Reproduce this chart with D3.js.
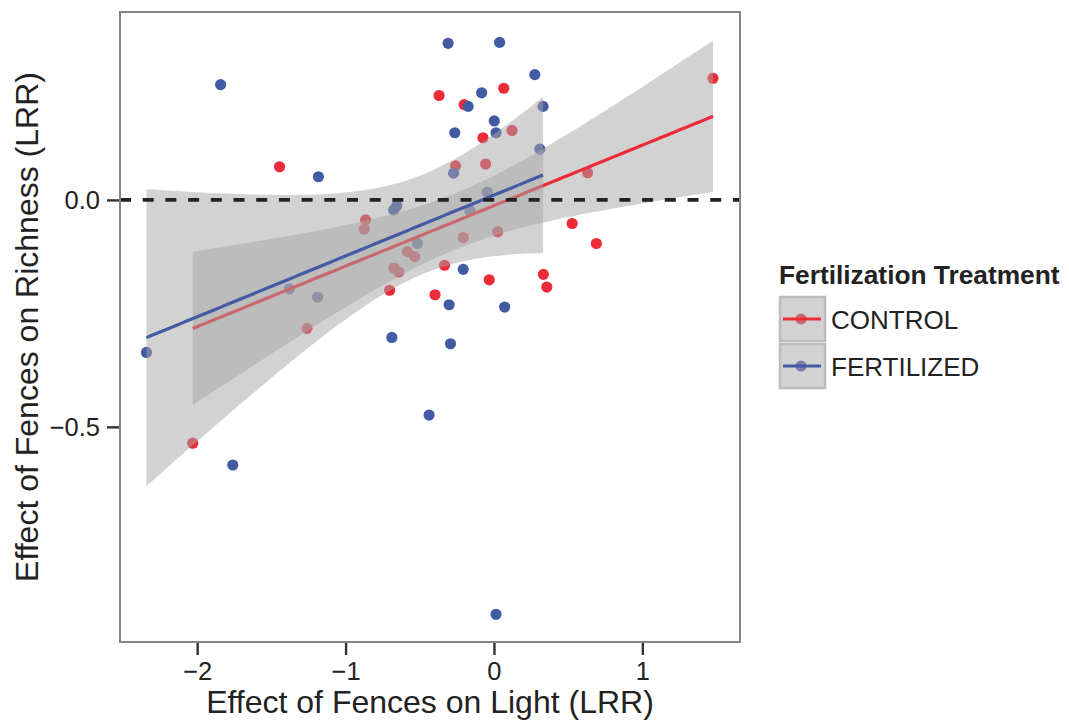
<!DOCTYPE html>
<html>
<head>
<meta charset="utf-8">
<script src="https://cdn.jsdelivr.net/npm/d3@7"></script>
<style>
  body { margin: 0; background: white; }
  svg text { font-family: "Liberation Sans", Arial, Helvetica, sans-serif; }
</style>
</head>
<body>
<div id="scatter"></div>
<script>
// Effect of fences on light (x) and on richness (y), both as LRR
let controlLight = [-1.445, -0.370, 0.066, -0.201, 0.122, -0.074, -0.259, -0.056, 0.631, 1.476,
    -0.865, -0.874, -0.584, -0.534, -0.674, -0.640, -0.703, -0.397, -1.260, -0.207,
    0.025, 0.527, 0.690, -0.333, -0.032, 0.333, 0.356, -2.030];
let controlRichness = [0.073, 0.230, 0.246, 0.210, 0.153, 0.137, 0.075, 0.079, 0.060, 0.268,
    -0.044, -0.064, -0.114, -0.125, -0.150, -0.159, -0.199, -0.209, -0.283, -0.083,
    -0.070, -0.052, -0.096, -0.144, -0.176, -0.164, -0.192, -0.536];

let fertLight = [-1.842, -1.183, -0.309, 0.038, 0.275, -0.083, -0.174, 0.331, 0.002, 0.014,
    -0.264, 0.309, -0.272, -0.045, -0.676, -0.654, -0.162, -0.516, -1.379, -1.188,
    -0.688, -2.342, -0.207, -0.302, 0.072, -0.293, -1.760, -0.437, 0.014];
let fertRichness = [0.254, 0.051, 0.345, 0.347, 0.276, 0.236, 0.206, 0.206, 0.174, 0.148,
    0.148, 0.112, 0.059, 0.017, -0.022, -0.013, -0.024, -0.096, -0.196, -0.214,
    -0.303, -0.336, -0.153, -0.231, -0.236, -0.317, -0.584, -0.474, -0.913];

let groupNames = ["CONTROL", "FERTILIZED"];
let groupColors = ["#ec2b38", "#435ba5"];
let xTicks = [-2, -1, 0, 1];
let yTicks = [-0.5, 0.0];

let width = 1069;
let height = 720;

let svg = d3.select("#scatter")
    .append("svg")
    .attr("width", width)
    .attr("height", height);

let panel = { left: 120, right: 740, top: 12, bottom: 642 };

let xScale = d3.scaleLinear()
    .domain([-2.52, 1.658])
    .range([panel.left, panel.right]);

let yScale = d3.scaleLinear()
    .domain([-0.974, 0.414])
    .range([panel.bottom, panel.top]);

// linear fit with 95% confidence band, like geom_smooth(method = "lm")
function lmBand(xs, ys, tval) {
    let n = xs.length;
    let mx = d3.mean(xs), my = d3.mean(ys);
    let sxx = d3.sum(xs, x => (x - mx) * (x - mx));
    let sxy = d3.sum(xs.map((x, i) => (x - mx) * (ys[i] - my)));
    let b = sxy / sxx;
    let a = my - b * mx;
    let rss = d3.sum(xs.map((x, i) => Math.pow(ys[i] - (a + b * x), 2)));
    let s = Math.sqrt(rss / (n - 2));
    let [lo, hi] = d3.extent(xs);
    let out = [];
    for (let k = 0; k <= 80; k++) {
        let x = lo + (hi - lo) * k / 80;
        let fit = a + b * x;
        let se = s * Math.sqrt(1 / n + (x - mx) * (x - mx) / sxx);
        out.push({ x: x, fit: fit, lower: fit - tval * se, upper: fit + tval * se });
    }
    return out;
}

let groups = [
    { name: groupNames[0], color: groupColors[0], xs: controlLight, ys: controlRichness, t: 2.056 },
    { name: groupNames[1], color: groupColors[1], xs: fertLight, ys: fertRichness, t: 2.052 }
];

// clip everything to the panel
svg.append("clipPath").attr("id", "panelClip")
    .append("rect")
    .attr("x", panel.left).attr("y", panel.top)
    .attr("width", panel.right - panel.left).attr("height", panel.bottom - panel.top);

let chartGroup = svg.append("g").attr("clip-path", "url(#panelClip)");

// points first, ribbons are drawn over them
groups.forEach(function(g) {
    chartGroup.append("g").selectAll("circle")
        .data(g.xs.map((x, i) => ({ x: x, y: g.ys[i] })))
        .enter()
        .append("circle")
        .attr("cx", d => xScale(d.x))
        .attr("cy", d => yScale(d.y))
        .attr("r", 5.6)
        .attr("fill", g.color);
});

let area = d3.area()
    .x(d => xScale(d.x))
    .y0(d => yScale(d.lower))
    .y1(d => yScale(d.upper));

let line = d3.line()
    .x(d => xScale(d.x))
    .y(d => yScale(d.fit));

groups.forEach(function(g) {
    let band = lmBand(g.xs, g.ys, g.t);
    chartGroup.append("path")
        .datum(band)
        .attr("d", area)
        .attr("fill", "#a7a6a6")
        .attr("opacity", 0.5);
    chartGroup.append("path")
        .datum(band)
        .attr("d", line)
        .attr("fill", "none")
        .attr("stroke", g.color)
        .attr("stroke-width", 3.2);
});

// dashed zero line
chartGroup.append("line")
    .attr("x1", panel.left).attr("x2", panel.right)
    .attr("y1", yScale(0)).attr("y2", yScale(0))
    .attr("stroke", "#222")
    .attr("stroke-width", 3.6)
    .attr("stroke-dasharray", "11,11.7");

// panel border
svg.append("rect")
    .attr("x", panel.left).attr("y", panel.top)
    .attr("width", panel.right - panel.left).attr("height", panel.bottom - panel.top)
    .attr("fill", "none")
    .attr("stroke", "#858585")
    .attr("stroke-width", 2);

// axes
let xAxis = d3.axisBottom(xScale).tickValues(xTicks).tickSize(12).tickPadding(7)
    .tickFormat(d3.format("d"));
let yAxis = d3.axisLeft(yScale).tickValues(yTicks).tickSize(12).tickPadding(7)
    .tickFormat(d3.format(".1f"));

let gx = svg.append("g")
    .attr("transform", `translate(0, ${panel.bottom + 1})`)
    .call(xAxis);
let gy = svg.append("g")
    .attr("transform", `translate(${panel.left - 1}, 0)`)
    .call(yAxis);

[gx, gy].forEach(function(ax) {
    ax.select(".domain").remove();
    ax.selectAll(".tick line").attr("stroke", "#333").attr("stroke-width", 2.4);
    ax.selectAll(".tick text")
        .attr("fill", "#222")
        .attr("font-size", "25.5px")
        .style("font-family", "'Liberation Sans', Arial, sans-serif");
});

svg.append("text")
    .attr("x", (panel.left + panel.right) / 2)
    .attr("y", 713)
    .attr("text-anchor", "middle")
    .attr("font-size", "32px")
    .attr("fill", "#222")
    .text("Effect of Fences on Light (LRR)");

svg.append("text")
    .attr("transform", `translate(38, ${(panel.top + panel.bottom) / 2}) rotate(-90)`)
    .attr("text-anchor", "middle")
    .attr("font-size", "32px")
    .attr("fill", "#222")
    .text("Effect of Fences on Richness (LRR)");

// legend
let legend = svg.append("g").attr("transform", "translate(779, 0)");

legend.append("text")
    .attr("x", 0)
    .attr("y", 284)
    .attr("font-size", "26.3px")
    .attr("font-weight", "bold")
    .attr("fill", "#222")
    .text("Fertilization Treatment");

groups.forEach(function(g, i) {
    let top = 296 + i * 47;
    let key = legend.append("g");
    // point sits under the ribbon fill, the line on top
    key.append("circle")
        .attr("cx", 22).attr("cy", top + 23)
        .attr("r", 5.6)
        .attr("fill", g.color);
    key.append("rect")
        .attr("x", 0).attr("y", top)
        .attr("width", 47).attr("height", 46)
        .attr("fill", "#a7a6a6")
        .attr("opacity", 0.5);
    key.append("rect")
        .attr("x", 1).attr("y", top + 1)
        .attr("width", 45).attr("height", 44)
        .attr("fill", "none")
        .attr("stroke", "#bdbcbc")
        .attr("stroke-width", 2.5);
    key.append("line")
        .attr("x1", 4).attr("x2", 42)
        .attr("y1", top + 23).attr("y2", top + 23)
        .attr("stroke", g.color)
        .attr("stroke-width", 3.2);
    legend.append("text")
        .attr("x", 52)
        .attr("y", top + 33)
        .attr("font-size", "26px")
        .attr("fill", "#222")
        .text(g.name);
});
</script>
</body>
</html>
